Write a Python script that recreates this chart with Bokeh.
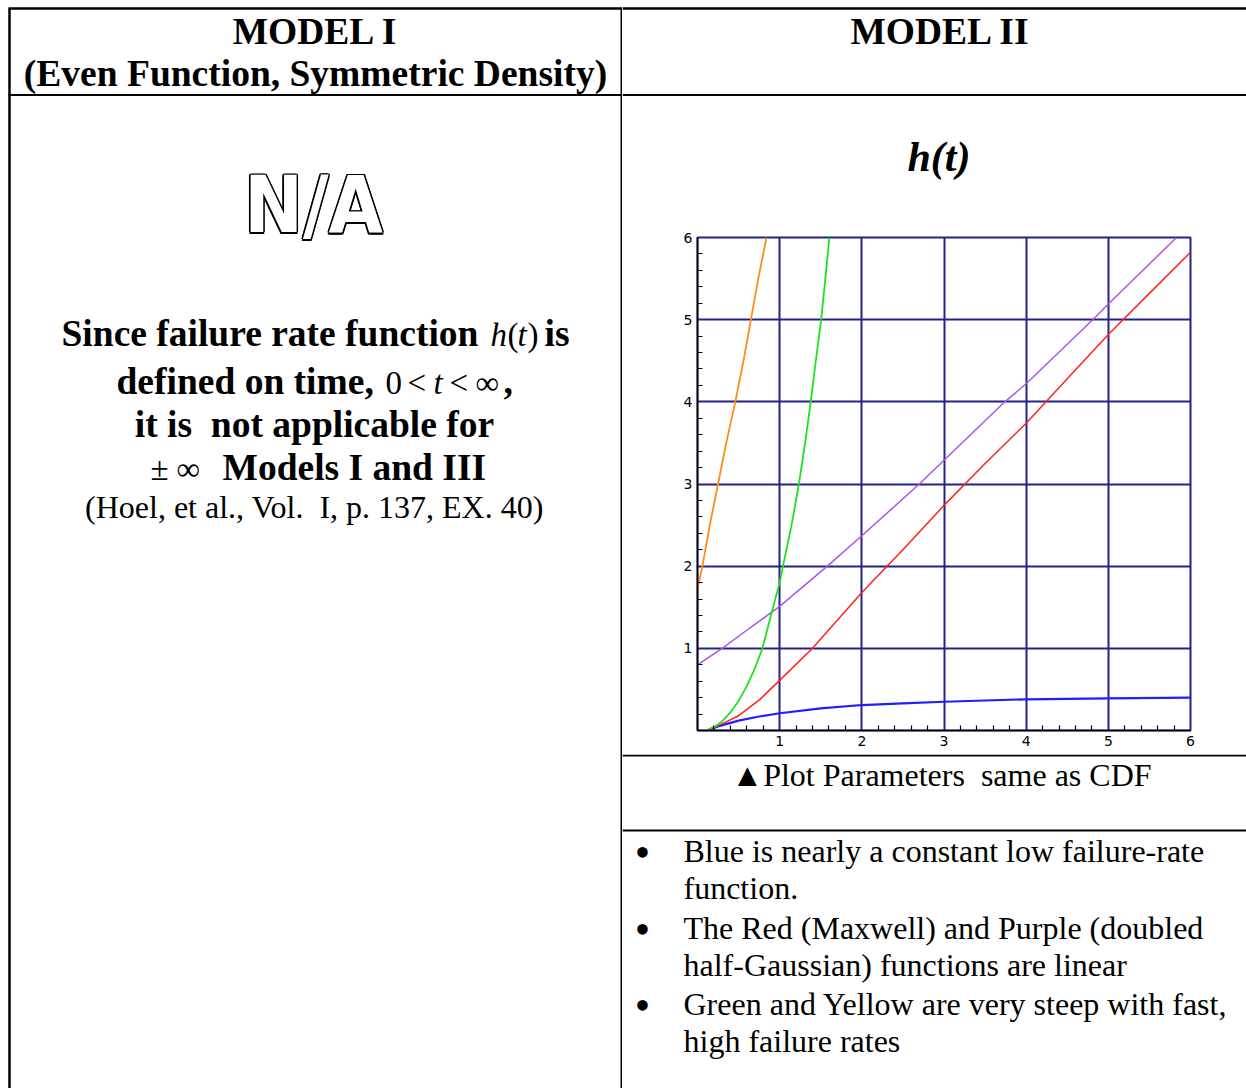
from bokeh.plotting import figure
from bokeh.models import Range1d, FixedTicker
from bokeh.layouts import row, column
from bokeh.embed import file_html
from bokeh.resources import INLINE
from bokeh.core.properties import value

# ---------------- data ----------------
t_orange = [0.00, 0.06, 0.15, 0.25, 0.35, 0.46, 0.56, 0.65, 0.74, 0.84]
h_orange = [1.72, 2.00, 2.50, 3.00, 3.50, 4.00, 4.50, 5.00, 5.50, 6.00]

t_green = [0.10, 0.20, 0.30, 0.40, 0.50, 0.60, 0.70, 0.79, 0.92, 1.00, 1.04, 1.145, 1.234, 1.31, 1.378, 1.44, 1.505, 1.556, 1.605]
h_green = [0.00, 0.04, 0.11, 0.22, 0.36, 0.54, 0.76, 1.00, 1.50, 1.80, 2.00, 2.50, 3.00, 3.50, 4.00, 4.50, 5.00, 5.50, 6.00]

t_red = [0.10, 0.30, 0.50, 0.75, 1.00, 1.40, 2.00, 2.50, 3.00, 3.50, 4.00, 4.50, 5.00, 5.50, 6.00]
h_red = [0.00, 0.08, 0.18, 0.37, 0.61, 1.00, 1.68, 2.20, 2.74, 3.25, 3.74, 4.28, 4.82, 5.32, 5.82]

t_purple = [0.00, 0.30, 0.60, 1.00, 1.58, 2.00, 2.70, 3.00, 3.74, 4.00, 4.81, 5.00, 5.83]
h_purple = [0.80, 1.00, 1.22, 1.51, 2.00, 2.37, 3.00, 3.29, 4.00, 4.22, 5.00, 5.19, 6.00]

t_blue = [0.12, 0.25, 0.50, 0.75, 1.00, 1.50, 2.00, 2.50, 3.00, 3.50, 4.00, 5.00, 6.00]
h_blue = [0.00, 0.05, 0.12, 0.17, 0.21, 0.27, 0.31, 0.33, 0.35, 0.365, 0.38, 0.39, 0.40]

major_ticks = [1, 2, 3, 4, 5, 6]
minor_ticks = [i / 5 for i in range(1, 31) if i % 5 != 0]

SERIF = "Liberation Serif"
NARROW = "Liberation Sans Narrow, DejaVu Sans Condensed, Liberation Sans, sans-serif"
NAVY = "#222288"
NB = "\u00a0"
BOLD = 37.5
REG = 32


def no_align(f):
    try:
        f.frame_align = False
    except Exception:
        pass


def pixel_fig(w, h):
    f = figure(width=w, height=h, x_range=Range1d(0, w), y_range=Range1d(h, 0),
               output_backend="svg", toolbar_location=None, min_border=0)
    f.axis.visible = False
    f.grid.visible = False
    f.outline_line_color = None
    f.background_fill_color = "white"
    f.border_fill_color = "white"
    no_align(f)
    return f


def txt(f, x, y, s, size, style="normal", align="left", font=SERIF, color="black"):
    # y is the intended baseline; the renderer sits text ~0.36em lower
    f.text(x=[x], y=[y - 0.36 * size], text=[s], text_font=value(font),
           text_font_size=f"{size}px", text_font_style=style, text_align=align,
           text_baseline="alphabetic", text_color=color)


def hline(f, x0, x1, y, w=2):
    f.line(x=[x0, x1], y=[y, y], line_color="black", line_width=w)


def vline(f, x, y0, y1, w=2):
    f.line(x=[x, x], y=[y0, y1], line_color="black", line_width=w)


# ---------------- left column (page x 0..622) ----------------
L = pixel_fig(622, 1088)
hline(L, 8, 622, 8, 2.5)
vline(L, 9, 8, 1088, 2.5)
vline(L, 621, 8, 1088, 2)
hline(L, 8, 622, 94.5, 2)

txt(L, 315, 44, "MODEL I", BOLD, "bold", "center")
txt(L, 315, 86, "(Even Function, Symmetric Density)", BOLD, "bold", "center")

# outlined N/A
na_x, na_y, na_s = 313, 233, 78
offs = [(-1.6, 0), (1.6, 0), (0, -1.6), (0, 1.6), (-1.2, -1.2), (1.2, 1.2), (-1.2, 1.2), (1.2, -1.2)]
for dx, dy in offs:
    txt(L, na_x + dx, na_y + dy, "N/A", na_s, "bold", "center", font=NARROW)
txt(L, na_x, na_y, "N/A", na_s, "bold", "center", font=NARROW, color="white")

# paragraph
b1 = 346
txt(L, 61, b1, "Since failure rate function", BOLD, "bold")
txt(L, 490, b1, "h", 33, "italic")
txt(L, 507, b1, "(", 33)
txt(L, 517, b1, "t", 33, "italic")
txt(L, 527, b1, ")", 33)
txt(L, 544, b1, "is", BOLD, "bold")

b2 = 394
txt(L, 116, b2, "defined on time,", BOLD, "bold")
txt(L, 385, b2, "0", 33)
txt(L, 407, b2, "<", 33)
txt(L, 433, b2, "t", 33, "italic")
txt(L, 449, b2, "<", 33)
txt(L, 475, b2, "\u221e", 33)
txt(L, 503, b2, ",", BOLD, "bold")

txt(L, 314, 437, "it is" + NB + " not applicable for", BOLD, "bold", "center")

b4 = 480
txt(L, 150, b4, "\u00b1", 33)
txt(L, 176, b4, "\u221e", 33)
txt(L, 222, b4, "Models I and III", BOLD, "bold")

txt(L, 314, 518, "(Hoel, et al., Vol." + NB + " I, p. 137, EX. 40)", REG, "normal", "center")

# ---------------- right column (page x 622..1246) ----------------
W = 624
RH = pixel_fig(W, 96)
hline(RH, 0, W, 8, 2.5)
hline(RH, 0, W, 94.5, 2)
txt(RH, 940 - 622, 44, "MODEL II", BOLD, "bold", "center")

T = pixel_fig(W, 104)           # page y 96..200
txt(T, 938.5 - 622, 172 - 96, "h(t)", 42, "bold italic", "center")

# chart: page y 200..754, frame x 697..1190, y 237..730
C = figure(width=W, height=554, x_range=Range1d(0, 6), y_range=Range1d(0, 6),
           output_backend="svg", toolbar_location=None,
           min_border_left=75, min_border_right=W - 75 - 493,
           min_border_top=37, min_border_bottom=24)
no_align(C)
C.background_fill_color = "white"
C.border_fill_color = "white"
C.outline_line_color = NAVY
C.outline_line_width = 2

for ax in (C.xaxis[0], C.yaxis[0]):
    ax.ticker = FixedTicker(ticks=major_ticks, minor_ticks=minor_ticks)
    ax.axis_line_color = "black"
    ax.axis_line_width = 1.5
    ax.major_tick_in = 0
    ax.major_tick_out = 0
    ax.minor_tick_in = 5
    ax.minor_tick_out = 0
    ax.minor_tick_line_color = "black"
    ax.minor_tick_line_width = 1.2
    ax.major_label_text_font = "DejaVu Sans"
    ax.major_label_text_font_size = "14px"
    ax.major_label_text_color = "black"
    ax.major_label_standoff = 5

for g in (C.xgrid[0], C.ygrid[0]):
    g.grid_line_color = NAVY
    g.grid_line_width = 2
    g.grid_line_alpha = 1.0

C.line(t_blue, h_blue, line_color="#1e1eff", line_width=2.2)
C.line(t_red, h_red, line_color="#ff2020", line_width=1.5)
C.line(t_purple, h_purple, line_color="#a855f0", line_width=1.5)
C.line(t_green, h_green, line_color="#20e020", line_width=1.8)
C.line(t_orange, h_orange, line_color="#ff8c1a", line_width=1.8)

# bottom right: page y 754..1088
by = 754
B = pixel_fig(W, 1088 - by)
hline(B, 0, W, 1, 2)
hline(B, 0, W, 830 - by, 2)
txt(B, 941 - 622, 786 - by, "\u25b2Plot Parameters" + NB + " same as CDF", REG, "normal", "center")

lines = [
    (862, True, "Blue is nearly a constant low failure-rate"),
    (899, False, "function."),
    (939, True, "The Red (Maxwell) and Purple (doubled"),
    (976, False, "half-Gaussian) functions are linear"),
    (1015, True, "Green and Yellow are very steep with fast,"),
    (1052, False, "high failure rates"),
]
for yb, bullet, s in lines:
    if bullet:
        txt(B, 642 - 622, yb + 6 - by, "\u2022", 44, "normal", "center")
    txt(B, 683 - 622, yb - by, s, REG)

page = row(L, column(RH, T, C, B, spacing=0), spacing=0)
open("out.html", "w").write(file_html(page, INLINE))
